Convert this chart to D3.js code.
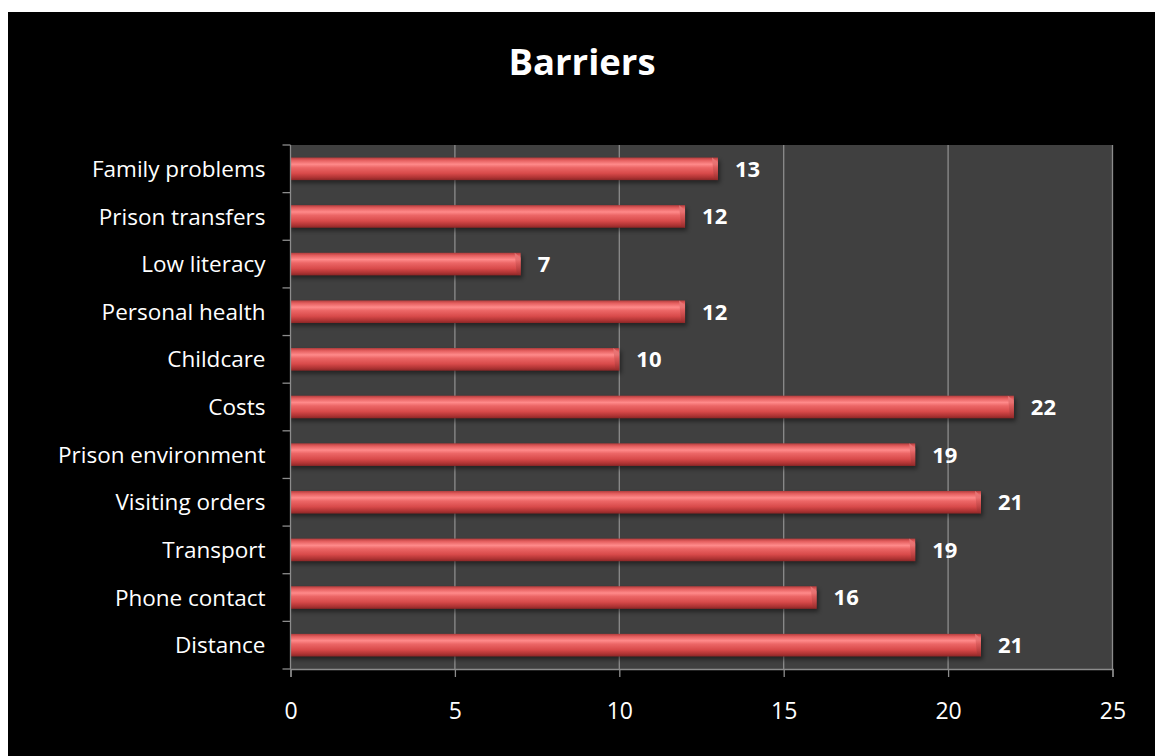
<!DOCTYPE html>
<html>
<head>
<meta charset="utf-8">
<script src="https://cdn.jsdelivr.net/npm/d3@7"></script>
<style>
  html, body { margin: 0; padding: 0; background: #ffffff; }
  svg { display: block; }
</style>
</head>
<body>
<svg id="chart" width="1155" height="756"></svg>
<script>
// Barriers to family contact, counts per category (top to bottom)
const categories = [
  "Family problems", "Prison transfers", "Low literacy", "Personal health",
  "Childcare", "Costs", "Prison environment", "Visiting orders",
  "Transport", "Phone contact", "Distance"
];
const values = [13, 12, 7, 12, 10, 22, 19, 21, 19, 16, 21];
const xTicks = [0, 5, 10, 15, 20, 25];
const chartTitle = "Barriers";

const svg = d3.select("#chart");
const W = 1155, H = 756;
const plot = { left: 290.5, right: 1112.5, top: 145, bottom: 669 };
const FONT = "'Open Sans', 'Noto Sans', sans-serif";

// black chart background
svg.append("rect").attr("x", 8).attr("y", 12)
  .attr("width", W - 8).attr("height", H - 12).attr("fill", "#000");

const defs = svg.append("defs");
const grad = defs.append("linearGradient").attr("id", "barGrad")
  .attr("x1", 0).attr("y1", 0).attr("x2", 0).attr("y2", 1);
[["0%", "#b23c3c"], ["12%", "#e45e5e"], ["30%", "#ff8a8a"], ["45%", "#ec6666"],
 ["70%", "#d84a4a"], ["88%", "#b03434"], ["100%", "#8a2626"]]
  .forEach(([o, c]) => grad.append("stop").attr("offset", o).attr("stop-color", c));

const capGrad = defs.append("linearGradient").attr("id", "capGrad")
  .attr("x1", 0).attr("y1", 0).attr("x2", 0).attr("y2", 1);
[["0%", "#f08c8c"], ["40%", "#d85a5a"], ["100%", "#942a2a"]]
  .forEach(([o, c]) => capGrad.append("stop").attr("offset", o).attr("stop-color", c));

const blur = defs.append("filter").attr("id", "shadowBlur")
  .attr("x", "-5%").attr("y", "-50%").attr("width", "110%").attr("height", "200%");
blur.append("feGaussianBlur").attr("stdDeviation", 2);

const x = d3.scaleLinear().domain([0, 25]).range([plot.left, plot.right]);
const y = d3.scaleBand().domain(categories)
  .range([plot.top, plot.bottom]).paddingInner(0.525).paddingOuter(0.2625);

// plot area background
svg.append("rect")
  .attr("x", plot.left).attr("y", plot.top)
  .attr("width", plot.right - plot.left).attr("height", plot.bottom - plot.top)
  .attr("fill", "#404040");

// vertical gridlines
svg.append("g").selectAll("line").data(xTicks.filter(t => t > 0)).join("line")
  .attr("x1", d => x(d)).attr("x2", d => x(d))
  .attr("y1", plot.top).attr("y2", plot.bottom)
  .attr("stroke", "#8c8c8c").attr("stroke-width", 1.3);

// bars
const bars = svg.append("g").selectAll("g").data(categories).join("g");
bars.append("rect")
  .attr("x", x(0)).attr("y", d => y(d) + 3)
  .attr("width", (d, i) => x(values[i]) - x(0) + 2)
  .attr("height", y.bandwidth())
  .attr("fill", "#000").attr("opacity", 0.45)
  .attr("filter", "url(#shadowBlur)");
bars.append("rect")
  .attr("x", x(0)).attr("y", d => y(d))
  .attr("width", (d, i) => x(values[i]) - x(0))
  .attr("height", y.bandwidth())
  .attr("fill", "url(#barGrad)");
// bevelled right end of each bar
bars.append("path")
  .attr("d", (d, i) => {
    const xe = x(values[i]), y0 = y(d), h = y.bandwidth();
    return `M${xe - 6},${y0} L${xe},${y0 + 5} L${xe},${y0 + h} L${xe - 4},${y0 + h - 2} Z`;
  })
  .attr("fill", "url(#capGrad)").attr("opacity", 0.7);

// value labels
svg.append("g").selectAll("text").data(categories).join("text")
  .attr("x", (d, i) => x(values[i]) + 17)
  .attr("y", d => y(d) + y.bandwidth() / 2)
  .attr("dy", "0.36em")
  .attr("fill", "#fff").attr("font-family", FONT).attr("font-weight", "bold")
  .attr("font-size", 22)
  .text((d, i) => values[i]);

// category axis
const yAxisG = svg.append("g").attr("transform", `translate(${plot.left},0)`);
yAxisG.append("line").attr("x1", 0).attr("x2", 0)
  .attr("y1", plot.top).attr("y2", plot.bottom)
  .attr("stroke", "#8c8c8c").attr("stroke-width", 1.3);
const boundaries = d3.range(categories.length + 1).map(i => plot.top + i * y.step());
yAxisG.selectAll("line.tick").data(boundaries).join("line").attr("class", "tick")
  .attr("x1", -8).attr("x2", 0).attr("y1", d => d).attr("y2", d => d)
  .attr("stroke", "#8c8c8c").attr("stroke-width", 1.3);
yAxisG.selectAll("text").data(categories).join("text")
  .attr("x", -25).attr("y", d => y(d) + y.bandwidth() / 2)
  .attr("dy", "0.36em").attr("text-anchor", "end")
  .attr("fill", "#fff").attr("font-family", FONT).attr("font-size", 22.5)
  .text(d => d);

// value axis
const xAxis = d3.axisBottom(x).tickValues(xTicks).tickSize(8).tickPadding(26)
  .tickFormat(d3.format("d"));
const xAxisG = svg.append("g").attr("transform", `translate(0,${plot.bottom})`).call(xAxis);
xAxisG.select(".domain").attr("stroke", "#8c8c8c").attr("stroke-width", 1.3);
xAxisG.selectAll(".tick line").attr("stroke", "#8c8c8c").attr("stroke-width", 1.3);
xAxisG.selectAll(".tick text").attr("fill", "#fff")
  .attr("font-family", FONT).attr("font-size", 23);

// title
svg.append("text").attr("x", 582).attr("y", 75)
  .attr("text-anchor", "middle").attr("fill", "#fff")
  .attr("font-family", FONT).attr("font-weight", "bold").attr("font-size", 36.5)
  .text(chartTitle);
</script>
</body>
</html>
